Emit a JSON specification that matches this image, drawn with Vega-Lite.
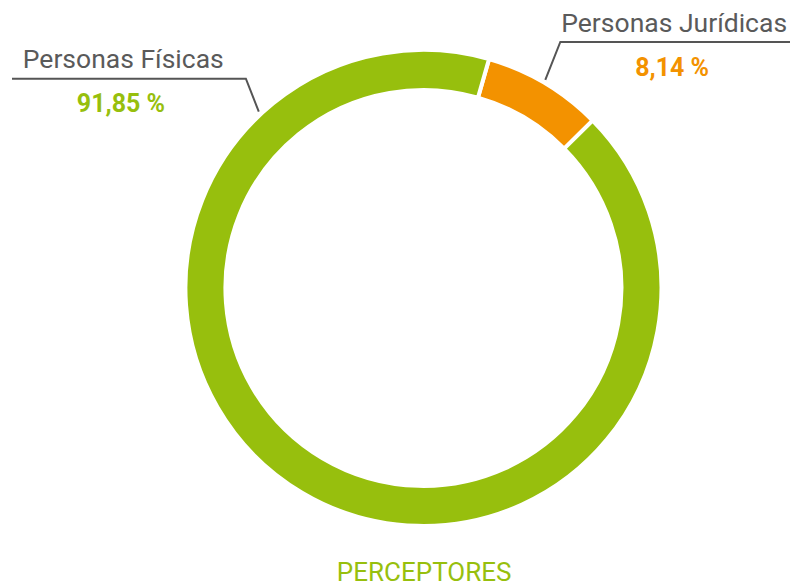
{
  "$schema": "https://vega.github.io/schema/vega-lite/v6.json",
  "width": 794,
  "height": 587,
  "padding": 0,
  "autosize": {"type": "fit", "contains": "padding"},
  "background": "white",
  "config": {"view": {"stroke": null}},
  "datasets": {
    "slices": [
      {"grupo": "Personas Jurídicas", "valor": 8.14, "orden": 1, "cx": 0, "cy": 0},
      {"grupo": "Personas Físicas", "valor": 91.85, "orden": 2, "cx": 0, "cy": 0}
    ],
    "names": [
      {"grupo": "Personas Físicas", "nombre": "Personas Físicas", "x": -170.6, "y": 93.4},
      {"grupo": "Personas Jurídicas", "nombre": "Personas Jurídicas", "x": 58.7, "y": 108.7}
    ],
    "pcts": [
      {"grupo": "Personas Físicas", "pct": "91,85 %", "x": -128.8, "y": 74.8},
      {"grupo": "Personas Jurídicas", "pct": "8,14 %", "x": 105.9, "y": 90.0}
    ],
    "leaders": [
      {"grupo": "Personas Físicas", "paso": 1, "x": -175.2, "y": 88.8},
      {"grupo": "Personas Físicas", "paso": 2, "x": -75.6, "y": 88.8},
      {"grupo": "Personas Físicas", "paso": 3, "x": -70.1, "y": 74.8},
      {"grupo": "Personas Jurídicas", "paso": 1, "x": 51.9, "y": 88.3},
      {"grupo": "Personas Jurídicas", "paso": 2, "x": 58.3, "y": 104.4},
      {"grupo": "Personas Jurídicas", "paso": 3, "x": 156.1, "y": 104.4}
    ],
    "caption": [
      {"texto": "PERCEPTORES", "x": 0.3, "y": -124.4}
    ]
  },
  "layer": [
    {
      "data": {"name": "slices"},
      "mark": {"type": "arc", "outerRadius": 238, "innerRadius": 198, "stroke": "white", "strokeWidth": 4},
      "encoding": {
        "x": {"field": "cx", "type": "quantitative", "scale": {"domain": [-180.3, 156.1], "nice": false, "zero": false}, "axis": null},
        "y": {"field": "cy", "type": "quantitative", "scale": {"domain": [-126.5, 122.2], "nice": false, "zero": false}, "axis": null},
        "theta": {"field": "valor", "type": "quantitative", "stack": true, "scale": {"range": [0.2793, 6.5625]}},
        "order": {"field": "orden", "type": "quantitative"},
        "color": {"field": "grupo", "type": "nominal", "scale": {"domain": ["Personas Físicas", "Personas Jurídicas"], "range": ["#97BF0D", "#F39200"]}, "legend": null}
      }
    },
    {
      "data": {"name": "leaders"},
      "mark": {"type": "line", "color": "#555555", "strokeWidth": 2},
      "encoding": {
        "x": {"field": "x", "type": "quantitative"},
        "y": {"field": "y", "type": "quantitative"},
        "detail": {"field": "grupo"},
        "order": {"field": "paso", "type": "quantitative"}
      }
    },
    {
      "data": {"name": "names"},
      "mark": {"type": "text", "align": "left", "baseline": "alphabetic", "font": "Roboto", "fontSize": 26.5, "color": "#5a5a5a"},
      "encoding": {
        "x": {"field": "x", "type": "quantitative"},
        "y": {"field": "y", "type": "quantitative"},
        "text": {"field": "nombre"}
      }
    },
    {
      "data": {"name": "pcts"},
      "mark": {"type": "text", "align": "center", "baseline": "alphabetic", "font": "Roboto", "fontSize": 25, "fontWeight": "bold"},
      "encoding": {
        "x": {"field": "x", "type": "quantitative"},
        "y": {"field": "y", "type": "quantitative"},
        "text": {"field": "pct"},
        "color": {"field": "grupo", "type": "nominal", "legend": null}
      }
    },
    {
      "data": {"name": "caption"},
      "mark": {"type": "text", "align": "center", "baseline": "alphabetic", "font": "Roboto", "fontSize": 26, "color": "#97BF0D"},
      "encoding": {
        "x": {"field": "x", "type": "quantitative"},
        "y": {"field": "y", "type": "quantitative"},
        "text": {"field": "texto"}
      }
    }
  ]
}
